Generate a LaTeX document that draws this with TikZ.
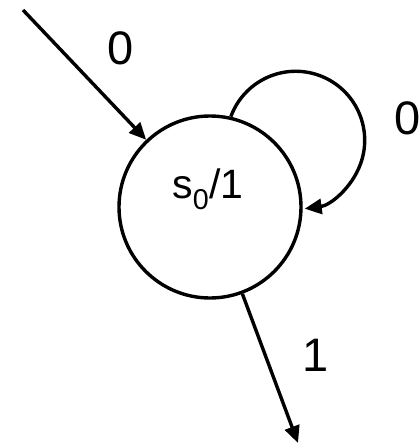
\documentclass[tikz,border=0pt]{standalone}
\usepackage{fontspec}
\setmainfont{Liberation Sans}
\usetikzlibrary{arrows.meta}
\begin{document}
\begin{tikzpicture}[
  line width=3.4pt,
  arr/.style={-{Triangle[length=17pt,width=15pt]}},
  lbl/.style={font=\fontsize{47}{50}\selectfont, inner sep=0pt},
  state/.style={circle, draw, minimum size=182pt, inner sep=0pt}
]
\useasboundingbox (0pt,0pt) rectangle (420pt,-445pt);
\node[state] (s) at (210pt,-207pt) {};
\node[font=\fontsize{41}{46}\selectfont, inner sep=0pt, anchor=base] (t) at (208pt,-198pt) {s\textsubscript{0}/1};
\coordinate (a) at (23pt,-10pt);
\coordinate (b) at (298pt,-443pt);
\draw[arr] (a) -- (s);
\draw[arr] (s) -- (b);
\draw[arr] (s.77) arc[start angle=160, end angle=-82.5, radius=69pt];
\node[lbl] (l1) at (121pt,-48pt) {0};
\node[lbl] (l2) at (408pt,-118pt) {0};
\node[lbl] (l3) at (316pt,-355pt) {1};
\end{tikzpicture}
\end{document}
